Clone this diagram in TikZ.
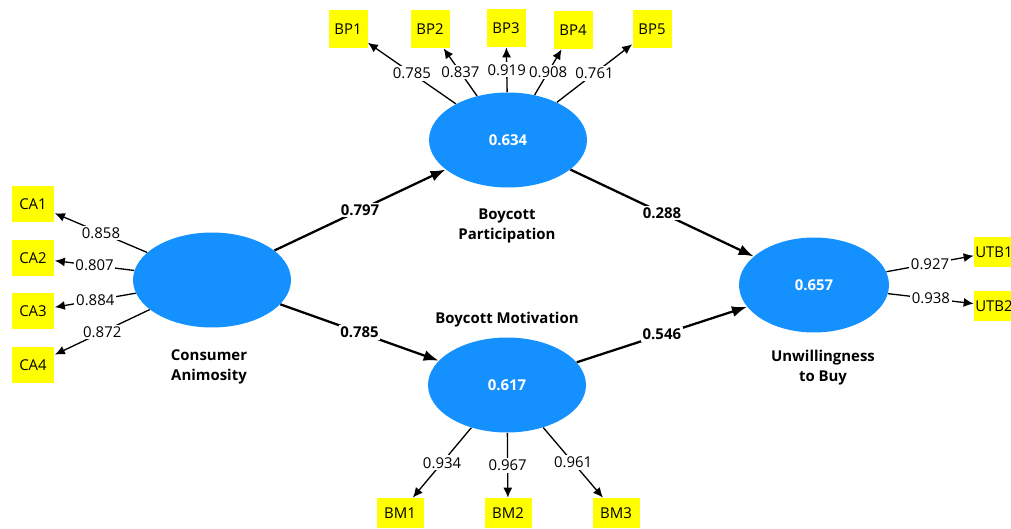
\documentclass[tikz,border=0pt]{standalone}
\usepackage{fontspec}
\setmainfont{Open Sans}
\usetikzlibrary{arrows.meta, positioning, shapes.geometric}
\definecolor{lvblue}{RGB}{20,145,255}
\definecolor{mvyellow}{RGB}{255,255,0}

\begin{document}
\begin{tikzpicture}[x=0.02cm, y=-0.02cm,
  latent/.style={ellipse, fill=lvblue, minimum width=3.16cm, minimum height=1.9cm, inner sep=0pt, text=white, font=\fontsize{8.5}{9}\selectfont\bfseries},
  item/.style={fill=mvyellow, inner sep=0pt, font=\fontsize{8.5}{9}\selectfont},
  title/.style={align=center, font=\fontsize{8.5}{11.5}\selectfont\bfseries},
  load/.style={line width=0.75pt, -{Latex[length=0.2cm, width=0.18cm]}},
  inner/.style={line width=1.3pt, -{Latex[length=0.3cm, width=0.22cm]}},
  lbl/.style={fill=white, inner sep=1pt, font=\fontsize{8.5}{9}\selectfont},
  plbl/.style={fill=white, inner sep=1pt, font=\fontsize{8.5}{9}\selectfont\bfseries}]
  \useasboundingbox (0,0) rectangle (1011,528);
  \clip (0,0) rectangle (1011,528);

  % latent variables
  \node[latent] (ca) at (212,280) {};
  \node[latent] (bp) at (508,140) {0.634};
  \node[latent] (bm) at (507,385) {0.617};
  \node[latent, minimum width=3cm] (utb) at (814,285) {0.657};

  \node[title] (ca-t) at (209,367) {Consumer\\Animosity};
  \node[title] (bp-t) at (507,226) {Boycott\\Participation};
  \node[title] (bm-t) at (507,320) {Boycott Motivation};
  \node[title] (utb-t) at (823,368) {Unwillingness\\to Buy};

  % indicators
  \node[item, minimum width=0.78cm, minimum height=0.76cm] (bp1) at (348,29) {BP1};
  \node[item, minimum width=0.78cm, minimum height=0.76cm] (bp2) at (430,29) {BP2};
  \node[item, minimum width=0.78cm, minimum height=0.76cm] (bp3) at (506,28) {BP3};
  \node[item, minimum width=0.78cm, minimum height=0.76cm] (bp4) at (573,30) {BP4};
  \node[item, minimum width=0.78cm, minimum height=0.76cm] (bp5) at (652,29) {BP5};

  \node[item, minimum width=0.86cm, minimum height=0.72cm] (ca1) at (33,204) {CA1};
  \node[item, minimum width=0.86cm, minimum height=0.72cm] (ca2) at (33,258) {CA2};
  \node[item, minimum width=0.86cm, minimum height=0.72cm] (ca3) at (33,311) {CA3};
  \node[item, minimum width=0.86cm, minimum height=0.72cm] (ca4) at (33,365) {CA4};

  \node[item, minimum width=0.94cm, minimum height=0.6cm] (bm1) at (400,513) {BM1};
  \node[item, minimum width=0.94cm, minimum height=0.6cm] (bm2) at (508,513) {BM2};
  \node[item, minimum width=0.94cm, minimum height=0.6cm] (bm3) at (616,513) {BM3};

  \node[item, minimum width=0.8cm, minimum height=0.6cm] (utb1) at (994,252) {UTB1};
  \node[item, minimum width=0.8cm, minimum height=0.6cm] (utb2) at (994,306) {UTB2};

  % outer loadings
  \draw[load] (bp) -- node[lbl] {0.785} (bp1);
  \draw[load] (bp) -- node[lbl] {0.837} (bp2);
  \draw[load] (bp) -- node[lbl] {0.919} (bp3);
  \draw[load] (bp) -- node[lbl] {0.908} (bp4);
  \draw[load] (bp) -- node[lbl] {0.761} (bp5);

  \draw[load] (ca) -- node[lbl] {0.858} (ca1);
  \draw[load] (ca) -- node[lbl] {0.807} (ca2);
  \draw[load] (ca) -- node[lbl] {0.884} (ca3);
  \draw[load] (ca) -- node[lbl] {0.872} (ca4);

  \draw[load] (bm) -- node[lbl] {0.934} (bm1);
  \draw[load] (bm) -- node[lbl] {0.967} (bm2);
  \draw[load] (bm) -- node[lbl] {0.961} (bm3);

  \draw[load] (utb) -- node[lbl] {0.927} (utb1);
  \draw[load] (utb) -- node[lbl] {0.938} (utb2);

  % structural paths
  \draw[inner] (ca) -- node[plbl] {0.797} (bp);
  \draw[inner] (ca) -- node[plbl] {0.785} (bm);
  \draw[inner] (bp) -- node[plbl] {0.288} (utb);
  \draw[inner] (bm) -- node[plbl] {0.546} (utb);
\end{tikzpicture}
\end{document}
